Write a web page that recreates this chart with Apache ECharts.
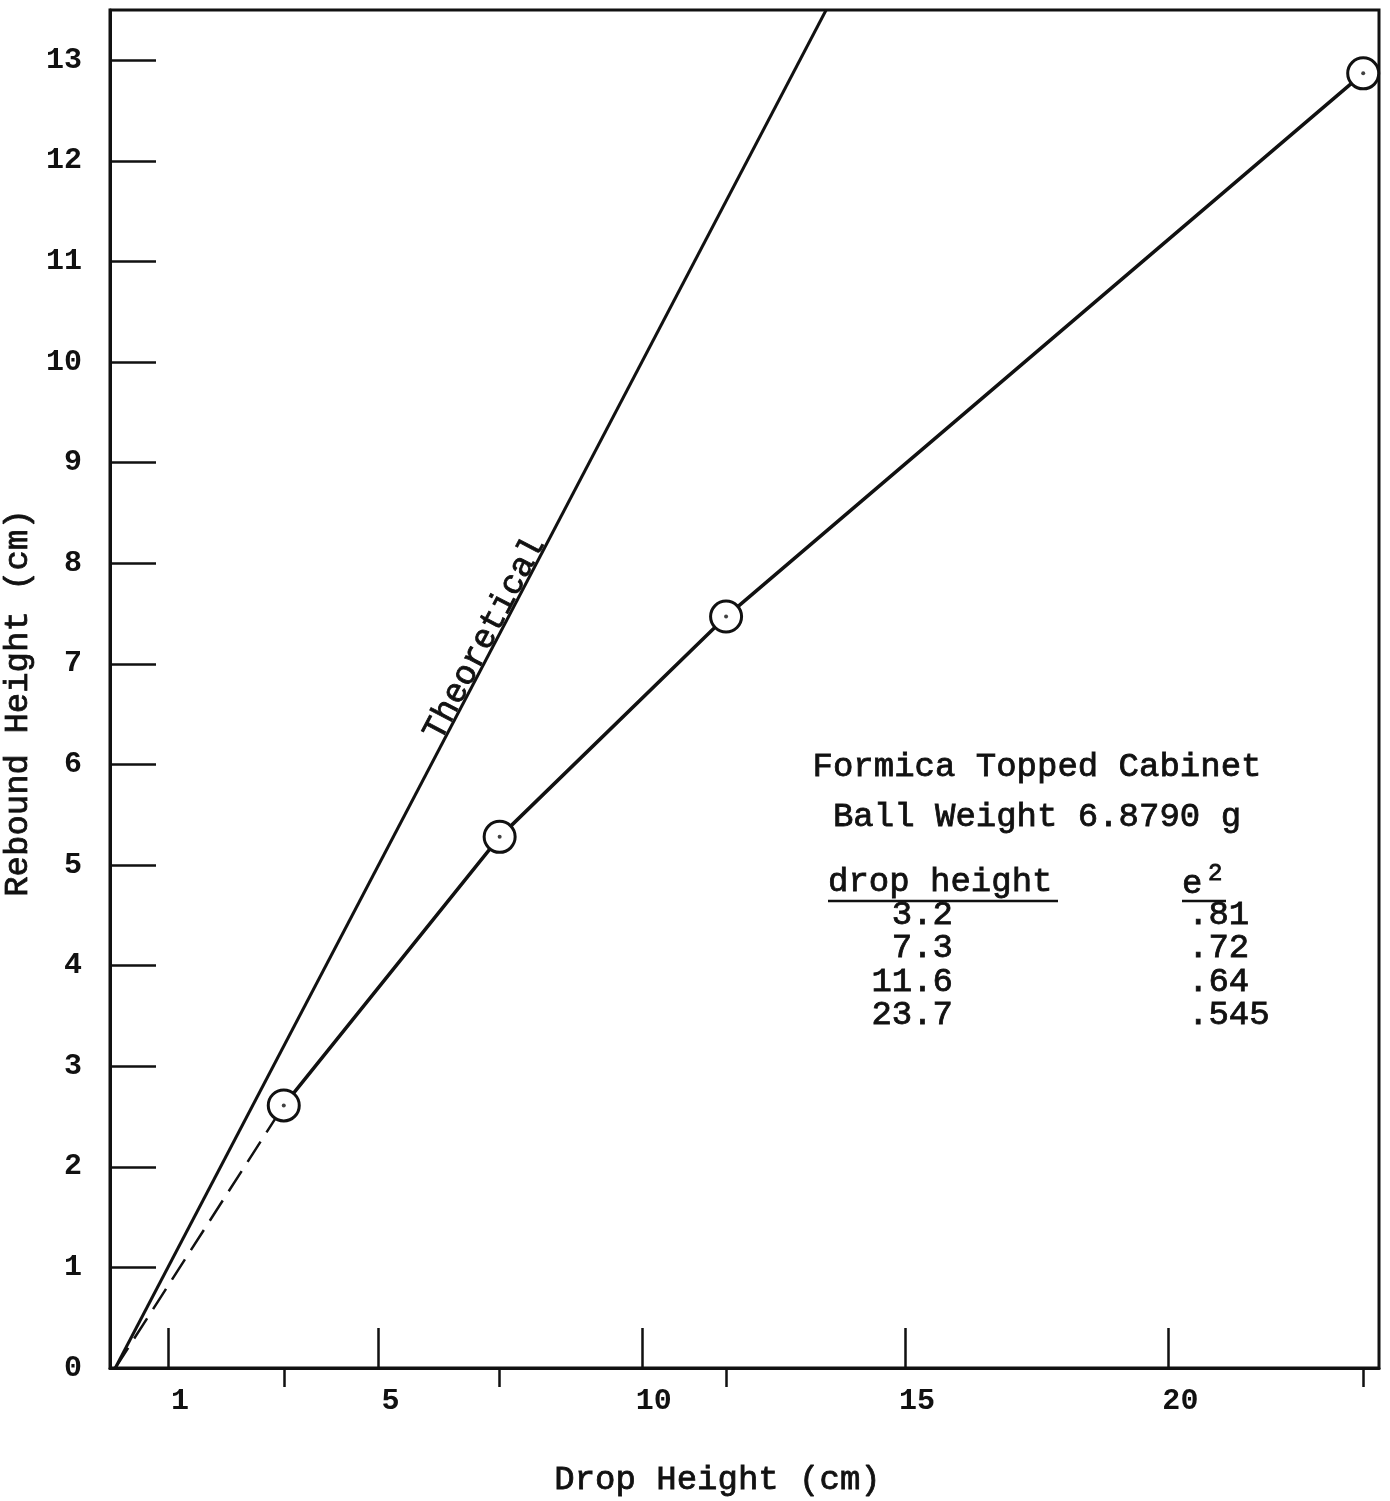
<!DOCTYPE html>
<html>
<head>
<meta charset="utf-8">
<title>Rebound Height vs Drop Height</title>
<script src="https://cdn.jsdelivr.net/npm/echarts@6/dist/echarts.min.js"></script>
<style>
  html, body { margin: 0; padding: 0; background: #fff; }
  #chart { width: 1390px; height: 1501px; }
</style>
</head>
<body>
<div id="chart"></div>
<script>
// measured drop / rebound heights (cm)
const dropHeight = [3.2, 7.3, 11.6, 23.7]
const reboundHeight = [2.61, 5.28, 7.47, 12.87]
const dropLabels = ['3.2', '7.3', '11.6', '23.7']
const e2Labels = ['.81', '.72', '.64', '.545']
// theoretical: e^2 = 1, rebound = drop
const theoreticalX = [0, 13.5]
const theoreticalY = [0, 13.5]
const xTickValues = [1, 5, 10, 15, 20]
const yTickValues = [1, 2, 3, 4, 5, 6, 7, 8, 9, 10, 11, 12, 13]
const yLabelValues = [0, 1, 2, 3, 4, 5, 6, 7, 8, 9, 10, 11, 12, 13]

const FONT = '"Liberation Mono", "DejaVu Sans Mono", monospace'
const INK = '#111'

const measured = dropHeight.map((x, i) => [x, reboundHeight[i]])
const theoretical = theoreticalX.map((x, i) => [x, theoreticalY[i]])

const chart = echarts.init(document.getElementById('chart'))

// typewriter text is a bit heavier than the font, so give it a thin outline
const heavy = { textBorderColor: INK, textBorderWidth: 0.8 }

const option = {
  backgroundColor: '#fff',
  animation: false,
  textStyle: { fontFamily: FONT, color: INK },
  grid: {
    left: 110,
    right: 11,
    top: 10,
    bottom: 133,
    outerBoundsMode: 'none',
    show: true,
    borderColor: INK,
    borderWidth: 3
  },
  xAxis: [
    {
      type: 'value',
      position: 'bottom',
      min: -0.1,
      max: 24,
      name: 'Drop Height (cm)',
      nameLocation: 'middle',
      nameGap: 95,
      nameTextStyle: { fontFamily: FONT, fontSize: 34, color: INK, padding: [0, 54, 0, 0], ...heavy },
      axisLine: { onZero: false, lineStyle: { color: INK, width: 3 } },
      axisTick: { inside: true, length: 40, customValues: xTickValues, lineStyle: { color: INK, width: 2.5 } },
      axisLabel: {
        customValues: xTickValues,
        margin: 18,
        padding: [0, 0, 0, 24],
        fontFamily: FONT,
        fontSize: 30,
        fontWeight: 'bold',
        color: INK
      },
      splitLine: { show: false }
    },
    {
      // small outward ticks at the measured drop heights
      type: 'value',
      position: 'bottom',
      min: -0.1,
      max: 24,
      axisLine: { show: false, onZero: false },
      axisTick: { inside: false, length: 19, customValues: dropHeight, lineStyle: { color: INK, width: 2.5 } },
      axisLabel: { show: false },
      splitLine: { show: false }
    }
  ],
  yAxis: {
    type: 'value',
    min: 0,
    max: 13.5,
    name: 'Rebound Height (cm)',
    nameLocation: 'middle',
    nameRotate: 90,
    nameGap: 56,
    nameTextStyle: { fontFamily: FONT, fontSize: 34, color: INK, padding: [0, 28, 0, 0], ...heavy },
    axisLine: { onZero: false, lineStyle: { color: INK, width: 3 } },
    axisTick: { inside: true, length: 46, customValues: yTickValues, lineStyle: { color: INK, width: 2.5 } },
    axisLabel: {
      customValues: yLabelValues,
      margin: 28,
      fontFamily: FONT,
      fontSize: 30,
      fontWeight: 'bold',
      color: INK
    },
    splitLine: { show: false }
  },
  series: [
    {
      name: 'Theoretical',
      type: 'line',
      data: theoretical,
      symbol: 'none',
      lineStyle: { color: INK, width: 3 },
      z: 2
    },
    {
      name: 'extrapolated',
      type: 'line',
      data: [[0, 0], measured[0]],
      symbol: 'none',
      lineStyle: { color: INK, width: 2.5, type: [24, 11] },
      z: 2
    },
    {
      name: 'Formica',
      type: 'line',
      data: measured,
      symbol: 'circle',
      symbolSize: 31,
      itemStyle: { color: '#fff', borderColor: INK, borderWidth: 3 },
      lineStyle: { color: INK, width: 3.5 },
      z: 3
    },
    {
      name: 'centre',
      type: 'scatter',
      data: measured,
      symbolSize: 4,
      itemStyle: { color: INK },
      z: 4
    }
  ]
}

chart.setOption(option)

// annotation: label along the theoretical line
const a = chart.convertToPixel({ xAxisIndex: 0, yAxisIndex: 0 }, [7.2, 7.2])
const b = chart.convertToPixel({ xAxisIndex: 0, yAxisIndex: 0 }, [13.5, 13.5])
const angle = Math.atan2(a[1] - b[1], b[0] - a[0])

const txt = (text, x, y, align, extra) => ({
  type: 'text',
  x,
  y,
  style: Object.assign({ text, font: '34px ' + FONT, fill: INK, stroke: INK, lineWidth: 0.8, align, verticalAlign: 'middle' }, extra || {})
})

const graphic = [
  {
    type: 'text',
    x: a[0],
    y: a[1],
    rotation: angle,
    style: { text: 'Theoretical', font: '34px ' + FONT, fill: INK, stroke: INK, lineWidth: 0.8, align: 'center', verticalAlign: 'bottom', y: 6 }
  },
  txt('Formica Topped Cabinet', 1037, 767, 'center'),
  txt('Ball Weight 6.8790 g', 1037, 817, 'center'),
  txt('drop height', 828, 882, 'left'),
  txt('e', 1182, 884, 'left'),
  txt('2', 1208, 874, 'left', { font: '24px ' + FONT }),
  { type: 'line', shape: { x1: 828, y1: 901, x2: 1058, y2: 901 }, style: { stroke: INK, lineWidth: 2.5 } },
  { type: 'line', shape: { x1: 1182, y1: 901, x2: 1226, y2: 901 }, style: { stroke: INK, lineWidth: 2.5 } }
]
const rowY = [915, 948, 982, 1015]
dropLabels.forEach((d, i) => {
  graphic.push(txt(d, 953, rowY[i], 'right'))
  graphic.push(txt(e2Labels[i], 1188, rowY[i], 'left'))
})

chart.setOption({ graphic })
</script>
</body>
</html>
